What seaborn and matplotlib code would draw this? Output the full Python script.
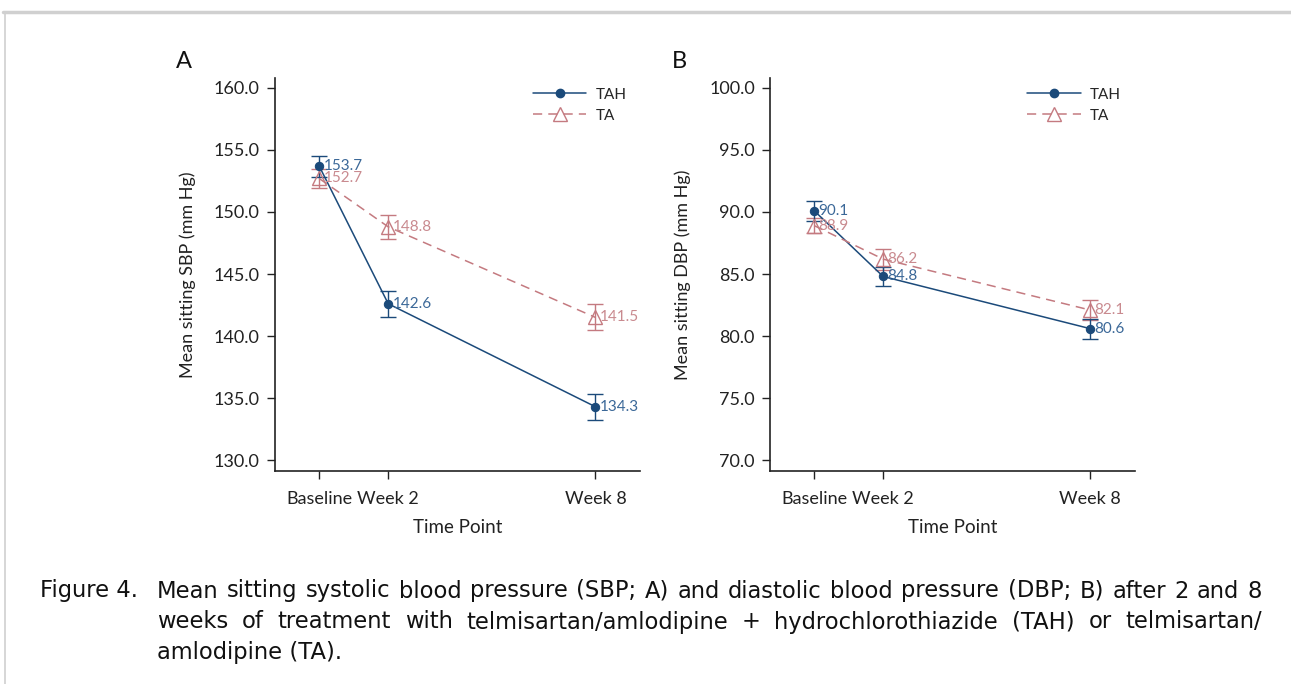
import seaborn as sns
import matplotlib.pyplot as plt
from matplotlib.lines import Line2D
import pandas as pd

# data
weeks = [0, 2, 8]
tick_labels = ["Baseline", "Week 2", "Week 8"]
groups = ["TAH", "TA"]

sbp_tah = [153.7, 142.6, 134.3]
sbp_ta = [152.7, 148.8, 141.5]
sbp_tah_se = [0.85, 1.05, 1.05]
sbp_ta_se = [0.75, 0.95, 1.05]

dbp_tah = [90.1, 84.8, 80.6]
dbp_ta = [88.9, 86.2, 82.1]
dbp_tah_se = [0.8, 0.8, 0.8]
dbp_ta_se = [0.6, 0.85, 0.8]

colors = {"TAH": "#1b4a7a", "TA": "#c47a80"}
label_colors = {"TAH": "#3b6898", "TA": "#c98a8f"}
ink = "#222222"

sns.set_style("white")
plt.rcParams['font.family'] = ['Lato', 'DejaVu Sans']

fig = plt.figure(figsize=(12.91, 6.84), dpi=100)

# grey frame like the journal page
fig.add_artist(Line2D([0.002, 1.0], [0.982, 0.982], color="#d0d0d0", lw=2.5))
fig.add_artist(Line2D([0.0035, 0.0035], [0.0, 0.982], color="#d0d0d0", lw=1.2))


def draw_panel(ax, tah, ta, tah_se, ta_se, ylabel, ylim, letter):
    df = pd.DataFrame({
        "week": weeks * 2,
        "value": tah + ta,
        "group": ["TAH"] * 3 + ["TA"] * 3,
    })
    sns.lineplot(data=df, x="week", y="value", hue="group", style="group",
                 hue_order=groups, style_order=groups, palette=colors,
                 markers={"TAH": "o", "TA": "^"},
                 dashes={"TAH": "", "TA": (6, 4)},
                 lw=1.1, ax=ax, legend=False)
    tah_line, ta_line = ax.get_lines()[0], ax.get_lines()[1]
    tah_line.set_markersize(6)
    tah_line.set_markerfacecolor(colors["TAH"])
    tah_line.set_markeredgecolor(colors["TAH"])
    ta_line.set_markersize(10)
    ta_line.set_markerfacecolor("none")
    ta_line.set_markeredgecolor(colors["TA"])
    ta_line.set_markeredgewidth(1.0)

    ax.errorbar(weeks, ta, yerr=ta_se, fmt="none", ecolor=colors["TA"],
                elinewidth=1.0, capsize=6, capthick=1.0, zorder=1)
    ax.errorbar(weeks, tah, yerr=tah_se, fmt="none", ecolor=colors["TAH"],
                elinewidth=1.0, capsize=6, capthick=1.0, zorder=1)

    for vals, g in [(tah, "TAH"), (ta, "TA")]:
        for w, v in zip(weeks, vals):
            ax.annotate(f"{v:.1f}", (w, v), xytext=(3, 0), textcoords="offset points",
                        ha="left", va="center", fontsize=11, color=label_colors[g])

    ax.set_xlim(-1.28, 9.3)
    ax.set_ylim(*ylim)
    ax.set_xticks(weeks)
    ax.set_xticklabels(tick_labels, fontsize=13, color=ink)
    yt = [ylim[0] + 0.9 + 5 * i for i in range(7)]
    ax.set_yticks(yt)
    ax.set_yticklabels([f"{t:.1f}" for t in yt], fontsize=13, color=ink)
    ax.tick_params(axis="both", direction="out", length=6, width=1, color=ink,
                   bottom=True, left=True)
    ax.tick_params(axis="x", pad=8)
    ax.tick_params(axis="y", pad=5)
    for s in ["top", "right"]:
        ax.spines[s].set_visible(False)
    for s in ["left", "bottom"]:
        ax.spines[s].set_color(ink)
        ax.spines[s].set_linewidth(1.2)
    ax.set_xlabel("Time Point", fontsize=13.5, color=ink, labelpad=9)
    ax.set_ylabel(ylabel, fontsize=13, color=ink, labelpad=13)

    handles = [
        Line2D([], [], color=colors["TAH"], lw=1.1, marker="o", ms=6),
        Line2D([], [], color=colors["TA"], lw=1.1, ls=(0, (6, 4)), marker="^",
               ms=10, mfc="none", mec=colors["TA"]),
    ]
    ax.legend(handles, groups, loc="upper right", bbox_to_anchor=(1.0, 1.01),
              frameon=False, fontsize=11, handlelength=3.5, handletextpad=0.6,
              labelspacing=0.45)
    ax.text(-0.27, 1.025, letter, transform=ax.transAxes, fontsize=17, color="#111111")


ax1 = fig.add_axes([0.213, 0.311, 0.283, 0.575])
draw_panel(ax1, sbp_tah, sbp_ta, sbp_tah_se, sbp_ta_se,
           "Mean sitting SBP (mm Hg)", (129.1, 160.8), "A")

ax2 = fig.add_axes([0.5965, 0.311, 0.2825, 0.575])
draw_panel(ax2, dbp_tah, dbp_ta, dbp_tah_se, dbp_ta_se,
           "Mean sitting DBP (mm Hg)", (69.1, 100.8), "B")

# caption, first two lines justified between x=157 and x=1262
cap_lines = [
    "Mean sitting systolic blood pressure (SBP; A) and diastolic blood pressure (DBP; B) after 2 and 8",
    "weeks of treatment with telmisartan/amlodipine + hydrochlorothiazide (TAH) or telmisartan/",
    "amlodipine (TA).",
]
cap_font = dict(fontsize=16.3, va="center", color="#111111", family=["DejaVu Sans"])
fig.text(40 / 1291, 1 - 591 / 684, "Figure 4.", **cap_font)

renderer = fig.canvas.get_renderer()
left_px, right_px = 157, 1262
for i, line in enumerate(cap_lines):
    y = 1 - (591 + 31 * i) / 684
    if i == len(cap_lines) - 1:
        fig.text(left_px / 1291, y, line, **cap_font)
        continue
    words = line.split(" ")
    widths = []
    for w in words:
        t = fig.text(0, 0, w, **cap_font)
        widths.append(t.get_window_extent(renderer).width)
        t.remove()
    gap = (right_px - left_px - sum(widths)) / (len(words) - 1)
    x = left_px
    for w, wd in zip(words, widths):
        fig.text(x / 1291, y, w, **cap_font)
        x += wd + gap

plt.savefig("out.png", dpi=100)
